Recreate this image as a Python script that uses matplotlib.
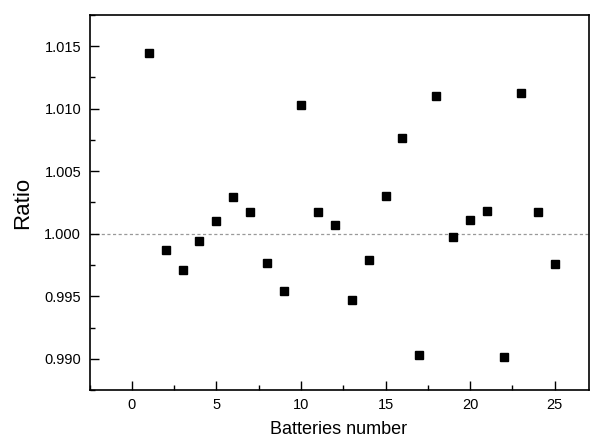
import matplotlib

matplotlib.use("Agg")
import matplotlib.pyplot as plt
from matplotlib.ticker import MultipleLocator

plt.rcParams["font.family"] = ["Liberation Sans", "DejaVu Sans"]

# battery index and measured ratio
battery = [1, 2, 3, 4, 5, 6, 7, 8, 9, 10, 11, 12, 13,
           14, 15, 16, 17, 18, 19, 20, 21, 22, 23, 24, 25]
ratio = [1.01442, 0.99870, 0.99711, 0.99942, 1.00104, 1.00295, 1.00176,
         0.99764, 0.99544, 1.01033, 1.00176, 1.00069, 0.99470, 0.99794,
         1.00300, 1.00770, 0.99034, 1.01100, 0.99971, 1.00109, 1.00181,
         0.99016, 1.01123, 1.00178, 0.99756]
reference_level = 1.0

fig = plt.figure(figsize=(5.9, 4.46), dpi=100)
ax = fig.add_axes([89.5 / 590, 56 / 446, 499 / 590, 375 / 446])

ax.axhline(reference_level, color="#999999", lw=0.9, ls=(0, (2.5, 2)), zorder=1)
ax.plot(battery, ratio, ls="none", marker="s", ms=6.3, color="black", zorder=3)

ax.set_xlim(-2.5, 27)
ax.set_ylim(0.9875, 1.0175)
ax.xaxis.set_major_locator(MultipleLocator(5))
ax.xaxis.set_minor_locator(MultipleLocator(2.5))
ax.yaxis.set_major_locator(MultipleLocator(0.005))
ax.yaxis.set_minor_locator(MultipleLocator(0.0025))
ax.yaxis.set_major_formatter(matplotlib.ticker.FormatStrFormatter("%.3f"))

ax.tick_params(which="both", direction="in", top=False, right=False,
               width=1.0, labelsize=10.5, pad=6)
ax.tick_params(which="major", length=6.5)
ax.tick_params(which="minor", length=3.4)
for s in ax.spines.values():
    s.set_linewidth(1.2)

ax.set_xlabel("Batteries number", fontsize=13, labelpad=6)
ax.set_ylabel("Ratio", fontsize=16, labelpad=8)

fig.savefig("out.png", dpi=100, facecolor="white")
